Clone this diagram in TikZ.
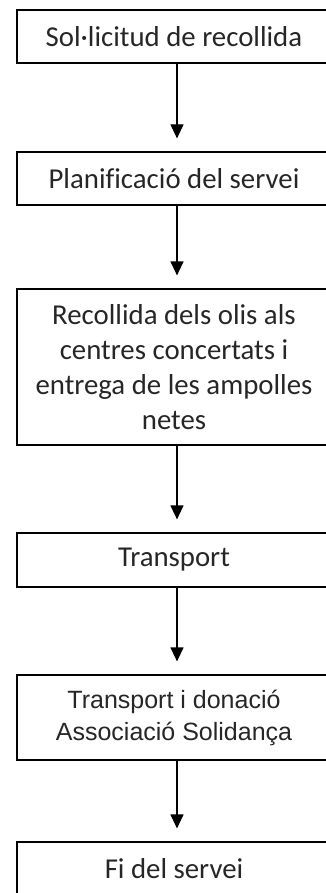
\documentclass[tikz,border=0pt]{standalone}
\usepackage{fontspec}
\setmainfont[Ligatures=NoCommon]{Carlito}
\newfontfamily\arialfont{Liberation Sans}
\usetikzlibrary{arrows.meta}
\definecolor{txt}{HTML}{262626}
\begin{document}
\begin{tikzpicture}[x=1pt,y=-1pt,
  box/.style={draw, line width=1.2pt, minimum width=314pt, align=center, inner sep=0pt,
    text=txt, font=\fontsize{28.8}{35}\selectfont},
  arr/.style={-{Triangle[length=14pt,width=13pt]}, line width=1.2pt, shorten >=13pt}]
\useasboundingbox (0,0) rectangle (326,893);
\node[box, minimum height=53pt] (a) at (174,36.5) {Sol·licitud de recollida};
\node[box, minimum height=53pt] (b) at (174,178.5) {Planificació del servei};
\node[box, minimum height=156pt] (c) at (174,367) {Recollida dels olis als\\centres concertats i\\entrega de les ampolles\\netes};
\node[box, minimum height=54pt] (d) at (174,560) {Transport};
\node[box, minimum height=85pt, font=\arialfont\fontsize{25}{32}\selectfont] (e) at (174,717.5) {Transport i donació\\Associació Solidança};
\node[box, minimum height=54pt] (f) at (174,869) {Fi del servei};
\draw[arr] ([xshift=3pt]a.south) -- ([xshift=3pt]b.north);
\draw[arr] ([xshift=3pt]b.south) -- ([xshift=3pt]c.north);
\draw[arr] ([xshift=3pt]c.south) -- ([xshift=3pt]d.north);
\draw[arr] ([xshift=3pt]d.south) -- ([xshift=3pt]e.north);
\draw[arr] ([xshift=3pt]e.south) -- ([xshift=3pt]f.north);
\end{tikzpicture}
\end{document}
